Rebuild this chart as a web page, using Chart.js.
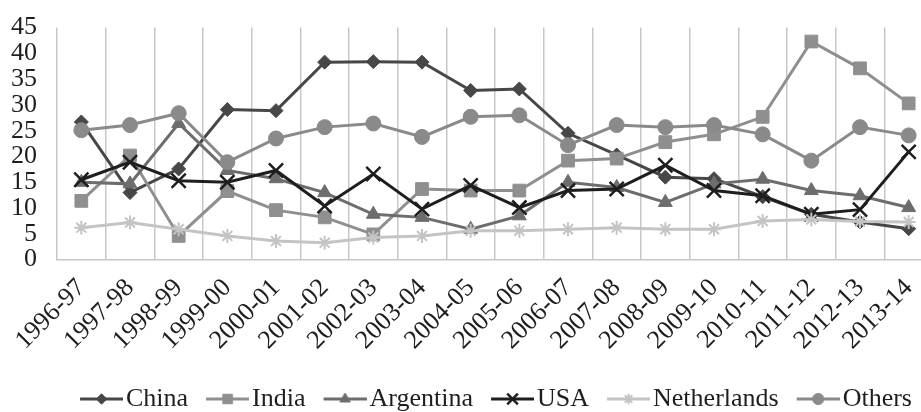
<!DOCTYPE html>
<html lang="en">
<head>
<meta charset="utf-8">
<title>Share by country</title>
<script src="https://cdn.jsdelivr.net/npm/chart.js@4.4.0/dist/chart.umd.min.js"></script>
<style>
  body { margin: 0; background: #fff; overflow: hidden; }
</style>
</head>
<body>
<canvas id="myChart" width="980" height="428"></canvas>
<script>
const years = ['1996-97', '1997-98', '1998-99', '1999-00', '2000-01', '2001-02', '2002-03', '2003-04', '2004-05',
    '2005-06', '2006-07', '2007-08', '2008-09', '2009-10', '2010-11', '2011-12', '2012-13', '2013-14'];

const china       = [26.7, 13.0, 17.6, 29.1, 28.9, 38.3, 38.4, 38.3, 32.8, 33.1, 24.5, 20.3, 16.0, 15.7, 12.2, 8.8, 7.3, 6.0];
const india       = [11.4, 20.2, 4.6, 13.3, 9.6, 8.2, 4.9, 13.7, 13.4, 13.4, 19.2, 19.6, 22.8, 24.3, 27.7, 42.3, 37.1, 30.3];
const argentina   = [15.0, 14.7, 26.4, 17.3, 15.7, 13.0, 8.8, 8.2, 5.9, 8.5, 15.0, 14.0, 11.1, 14.7, 15.6, 13.4, 12.4, 10.1];
const usa         = [15.5, 18.9, 15.3, 15.0, 17.3, 10.4, 16.6, 9.8, 14.4, 10.1, 13.4, 13.7, 18.3, 13.4, 12.4, 8.8, 9.7, 20.9];
const netherlands = [6.2, 7.2, 5.9, 4.6, 3.6, 3.3, 4.3, 4.6, 5.6, 5.6, 5.9, 6.2, 5.9, 5.9, 7.5, 7.8, 7.4, 7.3];
const others      = [25.1, 26.1, 28.4, 18.9, 23.5, 25.7, 26.4, 23.8, 27.7, 28.0, 22.2, 26.1, 25.7, 26.1, 24.3, 19.2, 25.7, 24.1];

const FONT = 'Liberation Serif';
const TEXT = '#1e1e1e';

// one line series, Excel style (later series drawn on top)
function series(label, data, color, style, radius, pbw, order) {
    return {
        label: label,
        data: data,
        borderColor: color,
        backgroundColor: color,
        borderWidth: 3,
        pointStyle: style,
        pointRadius: radius,
        pointHoverRadius: radius,
        pointBorderWidth: pbw,
        tension: 0,
        order: order
    };
}

const datasets = [
    series('China', china, '#474747', 'rectRot', 7, 1, 5),
    series('India', india, '#8f8f8f', 'rect', 9, 1, 4),
    series('Argentina', argentina, '#6d6d6d', 'triangle', 8, 1, 3),
    series('USA', usa, '#1e1e1e', 'crossRot', 10, 2.5, 2),
    series('Netherlands', netherlands, '#c4c4c4', 'star', 7, 2, 1),
    series('Others', others, '#8a8a8a', 'circle', 7.5, 1, 0)
];

// legend icon: 43px line with the marker in the middle. Chart.js centres the
// image on the box, so the canvas is padded on the left to start the line at the item x
const ICON_W = 54;
function legendIcon(ds) {
    const c = document.createElement('canvas');
    c.width = ICON_W;
    c.height = 24;
    const ctx = c.getContext('2d');
    ctx.strokeStyle = ds.borderColor;
    ctx.fillStyle = ds.backgroundColor;
    ctx.lineWidth = 3;
    ctx.beginPath();
    ctx.moveTo(ICON_W - 43, 12);
    ctx.lineTo(ICON_W, 12);
    ctx.stroke();
    ctx.lineWidth = ds.pointBorderWidth;
    Chart.helpers.drawPoint(ctx, {
        pointStyle: ds.pointStyle,
        radius: ds.pointRadius * 0.75,
        rotation: 0,
        borderWidth: ds.pointBorderWidth
    }, ICON_W - 21.5, 12);
    return c;
}
const icons = datasets.map(legendIcon);

const ctx = document.getElementById('myChart').getContext('2d');
const chart = new Chart(ctx, {
    type: 'line',
    data: {
        labels: years,
        datasets: datasets
    },
    options: {
        responsive: false,
        animation: false,
        layout: {
            padding: { top: 12, left: 11, right: 0, bottom: 6 }
        },
        plugins: {
            tooltip: { enabled: false },
            legend: {
                position: 'bottom',
                labels: {
                    font: { family: FONT, size: 26 },
                    color: TEXT,
                    usePointStyle: true,
                    pointStyleWidth: 34,
                    padding: 17,
                    sort: (a, b) => a.datasetIndex - b.datasetIndex,
                    generateLabels: function (chart) {
                        const items = Chart.defaults.plugins.legend.labels.generateLabels(chart);
                        items.forEach(it => { it.pointStyle = icons[it.datasetIndex]; });
                        return items;
                    }
                }
            }
        },
        scales: {
            x: {
                offset: true,
                grid: { color: '#c8c8c8', lineWidth: 1.5, drawTicks: false, offset: true },
                border: { color: '#c8c8c8', width: 1.5 },
                ticks: {
                    font: { family: FONT, size: 26 },
                    color: TEXT,
                    minRotation: 45,
                    maxRotation: 45,
                    autoSkip: false,
                    padding: 13
                },
                // the plot runs past the right edge of the page like the original,
                // and rotated labels hang to the left
                afterFit: function (scale) {
                    scale.paddingLeft = 0;
                    scale.paddingRight = 47;
                }
            },
            y: {
                min: 0,
                max: 45,
                grid: { display: false },
                border: { display: false },
                ticks: {
                    stepSize: 5,
                    autoSkip: false,
                    font: { family: FONT, size: 26 },
                    color: TEXT,
                    padding: 12
                },
                afterFit: function (scale) {
                    scale.width = 46;
                }
            }
        }
    }
});
</script>
</body>
</html>
